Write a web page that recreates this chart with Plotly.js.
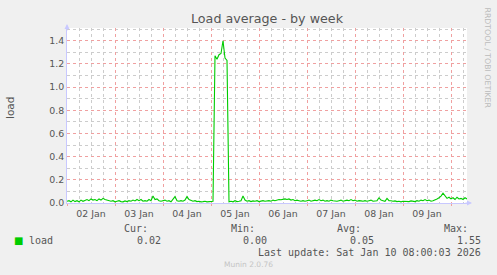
<!DOCTYPE html>
<html>
<head>
<meta charset="utf-8">
<script src="https://cdn.plot.ly/plotly-3.0.1.min.js"></script>
<style>
html,body{margin:0;padding:0;background:#F0F0F0;}
#chart{width:497px;height:275px;}
</style>
</head>
<body>
<div id="chart"></div>
<script>
// hourly load samples starting 2026-01-02 00:00
const startTime = '2026-01-02T00:00:00';
const endTime = '2026-01-10T08:00:00';
const loadValues = [
  0.015,0.02,0.01,0.025,0.012,0.02,0.01,0.025,0.015,0.02,
  0.03,0.02,0.035,0.025,0.03,0.02,0.035,0.025,0.04,0.03,
  0.025,0.02,0.015,0.02,0.01,0.015,0.02,0.012,0.01,0.018,
  0.012,0.02,0.015,0.025,0.018,0.03,0.02,0.03,0.015,0.02,
  0.015,0.03,0.02,0.06,0.03,0.035,0.02,0.015,0.02,0.025,
  0.015,0.02,0.01,0.03,0.055,0.02,0.015,0.02,0.015,0.025,
  0.055,0.03,0.02,0.015,0.02,0.012,0.015,0.01,0.012,0.015,
  0.01,0.012,0.01,0.015,1.27,1.24,1.28,1.29,1.40,1.25,
  1.23,0.01,0.015,0.01,0.02,0.012,0.015,0.02,0.06,0.025,
  0.015,0.02,0.012,0.018,0.015,0.02,0.012,0.015,0.02,0.015,
  0.018,0.02,0.015,0.025,0.02,0.025,0.03,0.028,0.03,0.035,
  0.03,0.035,0.025,0.03,0.02,0.025,0.02,0.015,0.02,0.015,
  0.02,0.025,0.015,0.02,0.025,0.02,0.03,0.02,0.025,0.015,
  0.02,0.015,0.025,0.02,0.018,0.015,0.02,0.025,0.015,0.02,
  0.025,0.02,0.03,0.02,0.025,0.015,0.02,0.018,0.015,0.02,
  0.015,0.02,0.025,0.015,0.02,0.02,0.045,0.025,0.02,0.015,
  0.04,0.02,0.02,0.015,0.018,0.012,0.015,0.01,0.015,0.012,
  0.015,0.012,0.018,0.015,0.012,0.02,0.015,0.025,0.02,0.03,
  0.02,0.025,0.015,0.02,0.025,0.035,0.045,0.06,0.085,0.06,
  0.04,0.05,0.035,0.045,0.03,0.05,0.035,0.04,0.03,0.045,0.035
];
const seriesName = 'load';
const statLabels = ['Cur:', 'Min:', 'Avg:', 'Max:'];
const statValues = ['0.02', '0.00', '0.05', '1.55'];
const lastUpdate = 'Last update: Sat Jan 10 08:00:03 2026';

const t0 = new Date(startTime + 'Z').getTime();
function fmt(ms){
  const d = new Date(ms);
  const p = n => String(n).padStart(2,'0');
  return d.getUTCFullYear()+'-'+p(d.getUTCMonth()+1)+'-'+p(d.getUTCDate())+' '+p(d.getUTCHours())+':'+p(d.getUTCMinutes());
}
const times = loadValues.map((v,i) => fmt(t0 + i*3600000));

const mono = 'DejaVu Sans Mono, monospace';
const sans = 'DejaVu Sans, sans-serif';
const txt = '#555555';

const annotations = [];
const headerX = [150, 257, 363, 470];
const valueX = [163, 269, 376, 483];
const W = 497, H = 275, L = 67, R = 30, T = 28, B = 72;
const pw = W - L - R, ph = H - T - B;
function px(x){ return (x - L) / pw; }
function py(y){ return (H - B - y) / ph; }
statLabels.forEach((s,i) => annotations.push({xref:'paper', yref:'paper', x:px(headerX[i]), y:py(228), xanchor:'right', yanchor:'middle', text:s, showarrow:false, font:{family:mono, size:10, color:txt}}));
statValues.forEach((s,i) => annotations.push({xref:'paper', yref:'paper', x:px(valueX[i]), y:py(240), xanchor:'right', yanchor:'middle', text:s, showarrow:false, font:{family:mono, size:10, color:txt}}));
annotations.push({xref:'paper', yref:'paper', x:px(27), y:py(240), xanchor:'left', yanchor:'middle', text:seriesName, showarrow:false, font:{family:mono, size:10, color:txt}});
annotations.push({xref:'paper', yref:'paper', x:px(12), y:py(240), xanchor:'left', yanchor:'middle', text:'■', showarrow:false, font:{family:sans, size:10, color:'#00CC00'}});
annotations.push({xref:'paper', yref:'paper', x:px(483), y:py(252), xanchor:'right', yanchor:'middle', text:lastUpdate, showarrow:false, font:{family:mono, size:10, color:txt}});
annotations.push({xref:'paper', yref:'paper', x:px(248), y:py(264), xanchor:'center', yanchor:'middle', text:'Munin 2.0.76', showarrow:false, font:{family:sans, size:7.5, color:'#C4C4C4'}});
annotations.push({xref:'paper', yref:'paper', x:px(487), y:py(5), xanchor:'center', yanchor:'top', text:'RRDTOOL / TOBI OETIKER', textangle:90, showarrow:false, font:{family:sans, size:7.8, color:'#BBBBBB'}});
annotations.push({xref:'paper', yref:'paper', x:px(10), y:py(108), xanchor:'center', yanchor:'middle', text:'load', textangle:-90, showarrow:false, font:{family:sans, size:10.5, color:txt}});
annotations.push({xref:'paper', yref:'paper', x:0, y:1.0+4/ph, ax:0, ay:8, text:'', showarrow:true, arrowhead:2, arrowsize:1, arrowwidth:1, arrowcolor:'#C8C8FF', standoff:0});
annotations.push({xref:'paper', yref:'paper', x:1.0+5/pw, y:0, ax:-8, ay:0, text:'', showarrow:true, arrowhead:2, arrowsize:1, arrowwidth:1, arrowcolor:'#C8C8FF', standoff:0});

const data = [{
  type:'scatter', mode:'lines', x:times, y:loadValues, name:seriesName,
  line:{color:'#00CC00', width:1.1}, hoverinfo:'skip'
}];

const layout = {
  width:W, height:H,
  margin:{l:L, r:R, t:T, b:B, pad:0},
  paper_bgcolor:'#F0F0F0', plot_bgcolor:'#FFFFFF',
  showlegend:false,
  title:{text:'Load average - by week', x:0.5, xref:'paper', xanchor:'center', y:1-19/H, yanchor:'middle', font:{family:sans, size:12.7, color:txt}},
  xaxis:{
    type:'date', range:[fmt(t0), endTime.replace('T',' ').slice(0,16)],
    ticklabelmode:'period', dtick:86400000, tick0:'2026-01-02', tickformat:'%d %b',
    showgrid:true, gridcolor:'#F0A0A0', griddash:'dot', gridwidth:1,
    minor:{dtick:6*3600000, showgrid:true, gridcolor:'#CCCCCC', griddash:'dot', gridwidth:1},
    ticks:'outside', ticklen:2, tickcolor:'#F0A0A0',
    showline:true, linecolor:'#C8C8FF', linewidth:1,
    tickfont:{family:sans, size:9.4, color:txt},
    zeroline:false, fixedrange:true
  },
  yaxis:{
    range:[0, 1.51], dtick:0.2, tick0:0, tickformat:'.1f',
    showgrid:true, gridcolor:'#F0A0A0', griddash:'dot', gridwidth:1,
    minor:{dtick:0.1, showgrid:true, gridcolor:'#CCCCCC', griddash:'dot', gridwidth:1},
    ticks:'', showline:true, linecolor:'#C8C8FF', linewidth:1,
    tickfont:{family:sans, size:9.4, color:txt},
    zeroline:false, fixedrange:true
  },
  annotations:annotations
};

Plotly.newPlot('chart', data, layout, {displayModeBar:false, staticPlot:true});
</script>
</body>
</html>
